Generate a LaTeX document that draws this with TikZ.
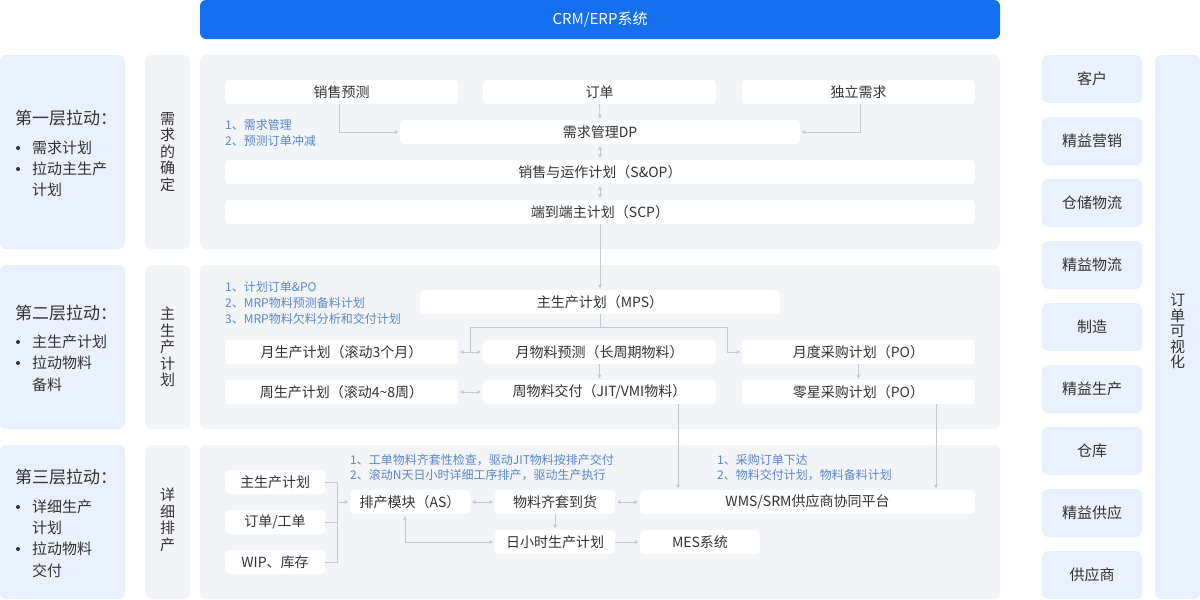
\documentclass[tikz,border=0pt]{standalone}
\usepackage{fontspec}
\setmainfont{Noto Sans CJK SC}
\usetikzlibrary{arrows.meta,calc}
\definecolor{topblue}{HTML}{1570EF}
\definecolor{lightblue}{HTML}{E8F1FD}
\definecolor{panelgray}{HTML}{F3F4F8}
\definecolor{linec}{HTML}{C5C9D1}
\definecolor{notec}{HTML}{5A87CC}
\definecolor{txt}{HTML}{333333}
\newcommand{\myfs}[2]{\fontsize{#1}{#2}\selectfont}
\begin{document}
\begin{tikzpicture}[x=1pt,y=-1pt,
 panel/.style={fill=panelgray, rounded corners=6pt, inner sep=0pt},
 bluebox/.style={fill=lightblue, rounded corners=6pt, inner sep=0pt},
 wbox/.style={fill=white, rounded corners=4pt, inner sep=0pt, minimum height=24pt, text=txt, font=\myfs{14}{16}},
 note/.style={anchor=west, inner sep=0pt, text=notec, font=\myfs{12}{14}},
 conn/.style={draw=linec, line width=0.8pt},
 arr/.style={conn, -{Stealth[length=4pt,width=4pt]}, shorten >=1.5pt},
 darr/.style={conn, {Stealth[length=4pt,width=4pt]}-{Stealth[length=4pt,width=4pt]}, shorten >=2pt, shorten <=2pt},
 vlab/.style={align=center, inner sep=0pt, text=txt, font=\myfs{15}{16.5}},
 ttl/.style={anchor=west, inner sep=0pt, text=txt, font=\myfs{17}{20}},
 itm/.style={anchor=west, inner sep=0pt, text=txt, font=\myfs{15}{18}},
 bul/.style={circle, fill=txt, inner sep=0pt, minimum size=4pt},
 rbox/.style={bluebox, minimum width=100pt, minimum height=48pt, text=txt, font=\myfs{15}{18}},
]
\useasboundingbox (0,0) rectangle (1200,600);

% top bar
\node[fill=topblue, rounded corners=6pt, inner sep=0pt, minimum width=800pt, minimum height=39pt, text=white, font=\myfs{15}{18}] (top) at (600,19.5) {CRM/ERP系统};

% left blue boxes
\node[bluebox, minimum width=125pt, minimum height=194pt] (L1) at (62.5,152) {};
\node[bluebox, minimum width=125pt, minimum height=164pt] (L2) at (62.5,347) {};
\node[bluebox, minimum width=125pt, minimum height=154pt] (L3) at (62.5,522) {};

% label columns
\node[panel, minimum width=45pt, minimum height=194pt] (C1) at (167.5,152) {};
\node[panel, minimum width=45pt, minimum height=164pt] (C2) at (167.5,347) {};
\node[panel, minimum width=45pt, minimum height=154pt] (C3) at (167.5,522) {};
\node[vlab] (v1) at (167.5,152) {需\\求\\的\\确\\定};
\node[vlab] (v2) at (167.5,347) {主\\生\\产\\计\\划};
\node[vlab] (v3) at (167.5,520) {详\\细\\排\\产};

% panels
\node[panel, minimum width=800pt, minimum height=194pt] (P1) at (600,152) {};
\node[panel, minimum width=800pt, minimum height=164pt] (P2) at (600,347) {};
\node[panel, minimum width=800pt, minimum height=154pt] (P3) at (600,522) {};

% right side
\foreach \t [count=\i] in {客户,精益营销,仓储物流,精益物流,制造,精益生产,仓库,精益供应,供应商}
  \node[rbox] (r\i) at (1092,17+62*\i) {\t};
\node[bluebox, minimum width=45pt, minimum height=544pt] (RV) at (1177.5,327) {};
\node[vlab, font=\myfs{15}{15.5}] (rv) at (1177.5,331) {订\\单\\可\\视\\化};

% left texts
\node[ttl] (t1) at (15,118) {第一层拉动：};
\node[bul] (b11) at (18,148) {};
\node[itm] (i11) at (32,148) {需求计划};
\node[bul] (b12) at (18,169) {};
\node[itm] (i12) at (32,169) {拉动主生产};
\node[itm] (i13) at (32,190) {计划};

\node[ttl] (t2) at (15,313) {第二层拉动：};
\node[bul] (b21) at (18,342) {};
\node[itm] (i21) at (32,342) {主生产计划};
\node[bul] (b22) at (18,363) {};
\node[itm] (i22) at (32,363) {拉动物料};
\node[itm] (i23) at (32,385) {备料};

\node[ttl] (t3) at (15,477) {第三层拉动：};
\node[bul] (b31) at (18,507) {};
\node[itm] (i31) at (32,507) {详细生产};
\node[itm] (i32) at (32,528) {计划};
\node[bul] (b32) at (18,549) {};
\node[itm] (i33) at (32,549) {拉动物料};
\node[itm] (i34) at (32,571) {交付};

% layer 1
\node[wbox, minimum width=233pt] (sf) at (341.5,92) {销售预测};
\node[wbox, minimum width=233pt] (dd) at (599.5,92) {订单};
\node[wbox, minimum width=233pt] (ind) at (858.5,92) {独立需求};
\node[wbox, minimum width=400pt] (dp) at (600,132) {需求管理DP};
\node[wbox, minimum width=750pt] (sop) at (600,172) {销售与运作计划（S\&OP）};
\node[wbox, minimum width=750pt] (scp) at (600,212) {端到端主计划（SCP）};
\node[note] (n11) at (225,125) {1、需求管理};
\node[note] (n12) at (225,141) {2、预测订单冲减};

\draw[arr] ([xshift=-2pt]sf.south) |- (dp.west);
\draw[arr] ([xshift=1.5pt]ind.south) |- (dp.east);
\draw[arr] (dd.south) -- (dp.north);
\draw[darr] (dp.south) -- (sop.north);
\draw[darr] (sop.south) -- (scp.north);

% layer 2
\node[wbox, minimum width=360pt] (mps) at (600,302) {主生产计划（MPS）};
\node[wbox, minimum width=233pt] (m1) at (341.5,352) {月生产计划（滚动3个月）};
\node[wbox, minimum width=233pt] (m2) at (599.5,352) {月物料预测（长周期物料）};
\node[wbox, minimum width=233pt] (m3) at (858.5,352) {月度采购计划（PO）};
\node[wbox, minimum width=233pt] (w1) at (341.5,392) {周生产计划（滚动4\textasciitilde 8周）};
\node[wbox, minimum width=233pt] (w2) at (599.5,392) {周物料交付（JIT/VMI物料）};
\node[wbox, minimum width=233pt] (w3) at (858.5,392) {零星采购计划（PO）};
\node[note] (n21) at (225,287) {1、计划订单\&PO};
\node[note] (n22) at (225,303) {2、MRP物料预测备料计划};
\node[note] (n23) at (225,319) {3、MRP物料欠料分析和交付计划};

\draw[arr] (scp.south) -- (mps.north);
\coordinate (j) at (600,327);
\draw[conn] (mps.south) -- (j) -| (470,352);
\draw[arr] (j) -| (727,352) -- (m3.west);
\draw[darr] (m1.east) -- (m2.west);
\draw[arr] (m2.south) -- (w2.north);
\draw[arr] (m3.south) -- (w3.north);
\draw[darr] (w1.east) -- (w2.west);

% layer 3
\node[wbox, minimum width=100pt] (a1) at (275,482) {主生产计划};
\node[wbox, minimum width=100pt] (a2) at (275,522) {订单/工单};
\node[wbox, minimum width=100pt] (a3) at (275,562) {WIP、库存};
\node[wbox, minimum width=120pt] (as) at (410,502) {排产模块（AS）};
\node[wbox, minimum width=120pt] (mk) at (555,502) {物料齐套到货};
\node[wbox, minimum width=335pt] (wms) at (807.5,502) {WMS/SRM供应商协同平台};
\node[wbox, minimum width=120pt] (hr) at (555,542) {日小时生产计划};
\node[wbox, minimum width=120pt] (mes) at (700,542) {MES系统};
\node[note] (n31) at (350,460) {1、工单物料齐套性检查，驱动JIT物料按排产交付};
\node[note] (n32) at (350,475) {2、滚动N天日小时详细工序排产，驱动生产执行};
\node[note] (n33) at (717,460) {1、采购订单下达};
\node[note] (n34) at (717,475) {2、物料交付计划，物料备料计划};

\draw[arr] ([xshift=78.5pt]w2.south) -- ([xshift=78.5pt]w2.south |- wms.north);
\draw[arr] ([xshift=77.5pt]w3.south) -- ([xshift=77.5pt]w3.south |- wms.north);
\draw[conn] (a1.east) -- (337.5,482) -- (337.5,562) -- (a3.east);
\draw[conn] (a2.east) -- (337.5,522);
\draw[arr] (337.5,502) -- (as.west);
\draw[darr] (as.east) -- (mk.west);
\draw[darr] (mk.east) -- (wms.west);
\draw[arr] (mk.south) -- (hr.north);
\draw[arr] (hr.east) -- (mes.west);
\draw[darr] ([xshift=-5pt]as.south) |- (hr.west);
\end{tikzpicture}
\end{document}
